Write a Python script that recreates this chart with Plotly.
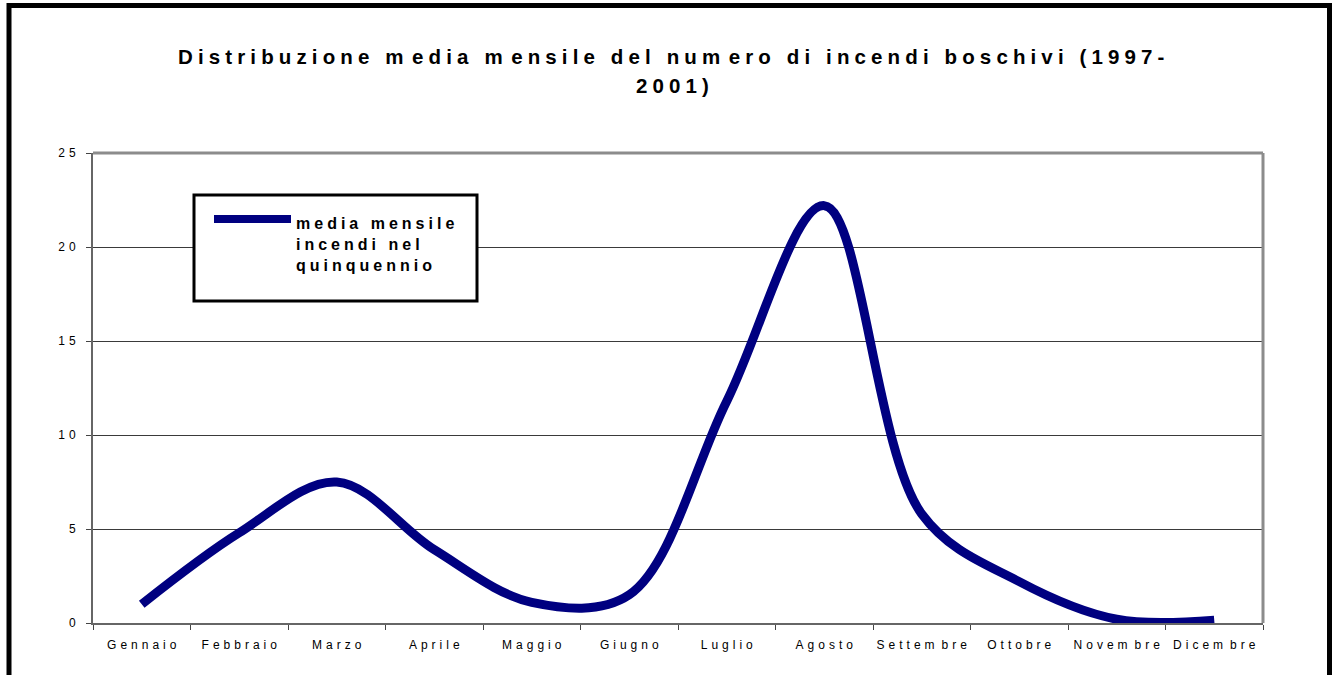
import plotly.graph_objects as go

# ---- data ----
months = ["Gennaio", "Febbraio", "Marzo", "Aprile", "Maggio", "Giugno",
          "Luglio", "Agosto", "Settembre", "Ottobre", "Novembre", "Dicembre"]
media_incendi = [1.0, 4.8, 7.5, 3.9, 1.1, 1.5, 11.8, 22.2, 5.8, 2.2, 0.2, 0.15]
y_ticks = [0, 5, 10, 15, 20, 25]
title_line1 = "Distribuzione media mensile del numero di incendi boschivi (1997-"
title_line2 = "2001)"
legend_label = ["media mensile", "incendi nel", "quinquennio"]

# ---- layout constants (pixels) ----
W, H = 1334, 675
L, R, T, B = 93, 71, 153, 52
PW, PH = W - L - R, H - T - B


def px_x(x):
    return (x - L) / PW


def px_y(y):
    return (H - B - y) / PH


def spaced(s, sep="\u2004", m_extra=""):
    out = []
    for i, ch in enumerate(s):
        out.append(ch)
        if i < len(s) - 1:
            out.append(sep)
            if ch == "m" and m_extra:
                out.append(m_extra)
    return "".join(out)


NAVY = "#000080"
FONT = "Liberation Sans, Arial, sans-serif"

fig = go.Figure()
fig.add_trace(go.Scatter(
    x=months, y=media_incendi, mode="lines",
    line=dict(color=NAVY, width=9, shape="spline", smoothing=1.0),
    name=" ".join(legend_label), showlegend=False, hoverinfo="x+y",
))

fig.update_layout(
    width=W, height=H,
    margin=dict(l=L, r=R, t=T, b=B, autoexpand=False),
    paper_bgcolor="white", plot_bgcolor="white",
    font=dict(family=FONT, color="black"),
    showlegend=False,
    xaxis=dict(
        type="category", range=[-0.5, 11.5],
        tickmode="array", tickvals=months,
        ticktext=[spaced(m, m_extra="\u2005") for m in months],
        tickangle=0, automargin=False,
        tickson="boundaries", ticks="outside", ticklen=5, tickwidth=1,
        tickcolor="#444444", tickfont=dict(size=12, family=FONT, color="black"),
        ticklabelstandoff=10,
        showline=True, linecolor="#666666", linewidth=2,
        showgrid=False, zeroline=False, fixedrange=True,
    ),
    yaxis=dict(
        range=[0, 25], tickmode="array", tickvals=y_ticks,
        ticktext=[spaced(str(v)) for v in y_ticks],
        automargin=False,
        ticks="outside", ticklen=5, tickwidth=1, tickcolor="#444444",
        tickfont=dict(size=12, family=FONT, color="black"),
        ticklabelstandoff=8,
        showline=True, linecolor="#666666", linewidth=2,
        showgrid=True, gridcolor="#3a3a3a", gridwidth=1,
        zeroline=False, fixedrange=True,
    ),
)

shapes = []
# plot-area border (top and right)
shapes.append(dict(type="line", xref="paper", yref="paper", x0=0, x1=1, y0=1, y1=1,
                   line=dict(color="#8c8c8c", width=3), layer="above"))
shapes.append(dict(type="line", xref="paper", yref="paper", x0=1, x1=1, y0=0, y1=1,
                   line=dict(color="#8c8c8c", width=3), layer="above"))
# legend box
shapes.append(dict(type="rect", xref="paper", yref="paper",
                   x0=px_x(194), x1=px_x(477), y0=px_y(301), y1=px_y(195),
                   line=dict(color="black", width=3), fillcolor="white", layer="above"))
shapes.append(dict(type="line", xref="paper", yref="paper",
                   x0=px_x(214), x1=px_x(291), y0=px_y(219), y1=px_y(219),
                   line=dict(color=NAVY, width=8), layer="above"))
# outer frame
shapes.append(dict(type="rect", xref="paper", yref="paper",
                   x0=px_x(9), x1=px_x(1329.5), y0=px_y(720), y1=px_y(5.5),
                   line=dict(color="black", width=5), fillcolor="rgba(0,0,0,0)",
                   layer="above"))
fig.update_layout(shapes=shapes)

annotations = [
    dict(text="<b>" + spaced(title_line1, sep="\u2005", m_extra="\u2006") + "</b>",
         xref="paper", yref="paper", x=px_x(671), y=px_y(56),
         xanchor="center", yanchor="middle", showarrow=False,
         font=dict(size=20.5, family=FONT, color="black")),
    dict(text="<b>" + spaced(title_line2, sep="\u2005") + "</b>",
         xref="paper", yref="paper", x=px_x(672), y=px_y(85),
         xanchor="center", yanchor="middle", showarrow=False,
         font=dict(size=20.5, family=FONT, color="black")),
    dict(text="<br>".join("<b>" + spaced(t, sep="\u2005") + "</b>" for t in legend_label),
         xref="paper", yref="paper", x=px_x(294), y=px_y(245),
         xanchor="left", yanchor="middle", align="left", showarrow=False,
         font=dict(size=16, family=FONT, color="black")),
]
fig.update_layout(annotations=annotations)

fig.write_html("out.html")
